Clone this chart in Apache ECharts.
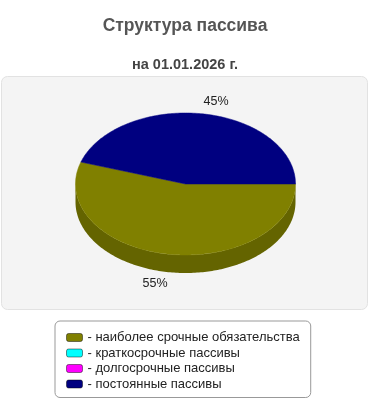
<!DOCTYPE html>
<html>
<head>
<meta charset="utf-8">
<script src="https://cdn.jsdelivr.net/npm/echarts@6/dist/echarts.min.js"></script>
<style>
  html, body { margin: 0; padding: 0; background: #fff; }
  #chart { width: 370px; height: 400px; }
</style>
</head>
<body>
<div id="chart"></div>
<script>
const categories = [
  'наиболее срочные обязательства',
  'краткосрочные пассивы',
  'долгосрочные пассивы',
  'постоянные пассивы'
]
const values = [55, 0, 0, 45]
const colors = ['#808000', '#00ffff', '#ff00ff', '#000080']
const sideColors = ['#646400', '#00b3b3', '#b300b3', '#000058']

const total = values.reduce((s, v) => s + v, 0)

// геометрия "объёмного" круга
const CX = 185.5
const CY = 184
const RX = 110
const RY = 71
const DEPTH = 18

function ellipsePoint(a, dy) {
  return [CX + RX * Math.cos(a), CY + RY * Math.sin(a) + (dy || 0)]
}

function arcPoints(a0, a1, dy) {
  const pts = []
  const steps = Math.max(2, Math.ceil((a1 - a0) / (Math.PI / 180)))
  for (let i = 0; i <= steps; i++) {
    pts.push(ellipsePoint(a0 + (a1 - a0) * i / steps, dy))
  }
  return pts
}

function makeRenderItem(idx) {
  return function (params, api) {
    const v = api.value(0)
    if (!v) return null
    let start = 0
    for (let i = 0; i < idx; i++) start += values[i]
    const a0 = start / total * Math.PI * 2
    const a1 = (start + v) / total * Math.PI * 2
    const children = []

    // боковая стенка — только передняя половина
    const s0 = Math.max(a0, 0)
    const s1 = Math.min(a1, Math.PI)
    if (s1 > s0) {
      const top = arcPoints(s0, s1, 0)
      const bottom = arcPoints(s0, s1, DEPTH).reverse()
      children.push({
        type: 'polygon',
        z2: 1,
        shape: { points: top.concat(bottom) },
        style: { fill: sideColors[idx], stroke: null }
      })
    }

    // верхняя грань
    children.push({
      type: 'polygon',
      z2: 10,
      shape: { points: [[CX, CY]].concat(arcPoints(a0, a1, 0)) },
      style: { fill: colors[idx], stroke: colors[idx], lineWidth: 0.5 }
    })

    // подпись с процентом
    const m = (a0 + a1) / 2
    const pct = Math.round(v / total * 100) + '%'
    children.push({
      type: 'text',
      z2: 20,
      x: CX + Math.cos(m) * 195,
      y: CY + Math.sin(m) * (RY + 12) + (Math.sin(m) > 0 ? DEPTH : 0),
      style: {
        text: pct,
        fill: '#222',
        font: '12.5px "Liberation Sans", Arial, sans-serif',
        align: 'center',
        verticalAlign: 'middle'
      }
    })

    return { type: 'group', children }
  }
}

const chart = echarts.init(document.getElementById('chart'), null, { renderer: 'canvas' })

chart.setOption({
  animation: false,
  backgroundColor: '#fff',
  title: [
    {
      text: 'Структура пассива',
      left: 'center',
      top: 12,
      textStyle: { fontFamily: '"Liberation Sans", Arial', fontSize: 17.5, fontWeight: 'bold', color: '#555' }
    },
    {
      text: 'на 01.01.2026 г.',
      left: 'center',
      top: 52,
      textStyle: { fontFamily: '"Liberation Sans", Arial', fontSize: 14.5, fontWeight: 'bold', color: '#444' }
    }
  ],
  graphic: [
    {
      type: 'rect',
      z: -10,
      silent: true,
      shape: { x: 1.5, y: 76.5, width: 366, height: 233, r: 6 },
      style: { fill: '#f4f4f4', stroke: '#e2e2e2', lineWidth: 1 }
    }
  ],
  legend: {
    orient: 'vertical',
    left: 55,
    top: 321,
    backgroundColor: '#fff',
    borderColor: '#999',
    borderWidth: 1,
    borderRadius: 5,
    padding: [9, 11, 6, 11],
    itemWidth: 16,
    itemHeight: 8,
    itemGap: 0.5,
    icon: 'roundRect',
    data: categories,
    formatter: '- {name}',
    itemStyle: { borderColor: 'rgba(0,0,0,0.45)', borderWidth: 1 },
    textStyle: {
      fontFamily: '"Liberation Sans", Arial',
      fontSize: 13,
      lineHeight: 15,
      color: '#222'
    },
    selectedMode: false
  },
  series: categories.map((name, i) => ({
    name,
    type: 'custom',
    coordinateSystem: 'none',
    itemStyle: { color: colors[i] },
    renderItem: makeRenderItem(i),
    data: [[values[i]]]
  }))
})
</script>
</body>
</html>
